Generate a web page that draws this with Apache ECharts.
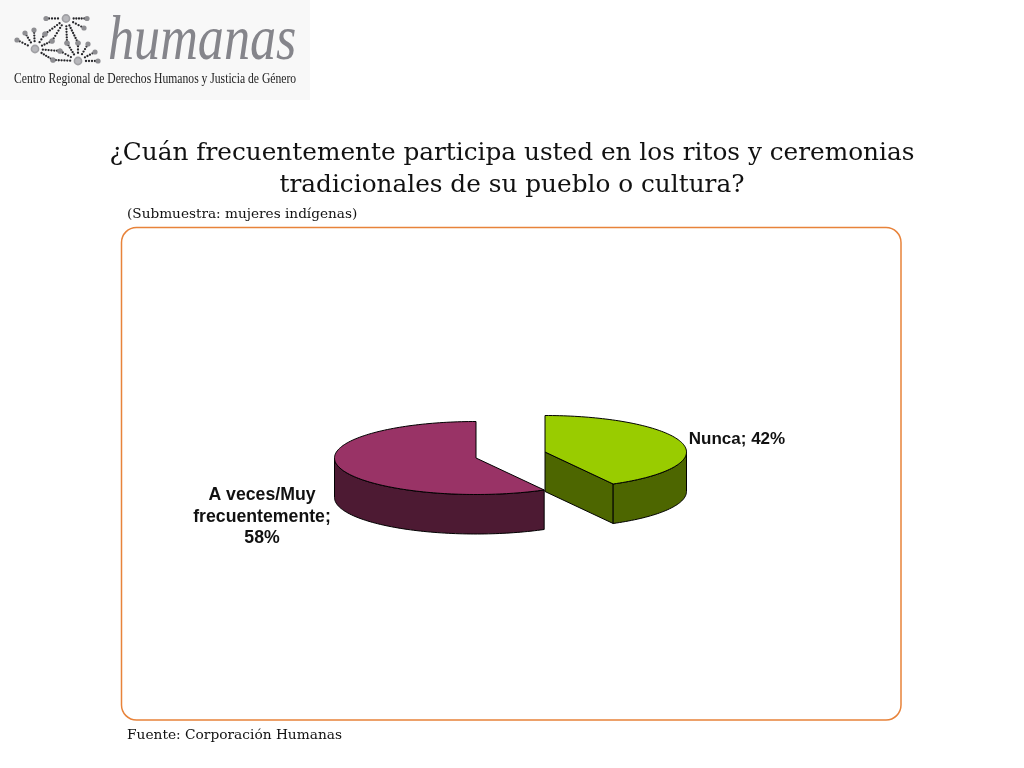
<!DOCTYPE html>
<html><head><meta charset="utf-8">
<style>html,body{margin:0;padding:0;background:#fff}#c{width:1024px;height:768px}</style>
<script src="https://cdn.jsdelivr.net/npm/echarts@6/dist/echarts.min.js"></script>
</head><body><div id="c"></div>
<script>
const categories = ['Nunca', 'A veces/Muy frecuentemente'];
const values = [42, 58];
const sliceLabels = ['Nunca; 42%', 'A veces/Muy\nfrecuentemente;\n58%'];
const topColors = ['#99CC00', '#993366'];
const wallColors = ['#4D6600', '#4D1A33'];
const titleText = '¿Cuán frecuentemente participa usted en los ritos y ceremonias\ntradicionales de su pueblo o cultura?';
const subtitleText = '(Submuestra: mujeres indígenas)';
const sourceText = 'Fuente: Corporación Humanas';

const chart = echarts.init(document.getElementById('c'), null, {renderer: 'canvas', width: 1024, height: 768});
const total = values.reduce((a, b) => a + b, 0);
const CX = 510.5, CY = 455, RX = 141.5, RY = 36.5, DEPTH = 39.5, EX = 34.5, EY = 3;
const labelPos = [[737, 439, 17], [262, 517, 17.7]];

function pt(cx, cy, deg, dy) {
  const r = deg * Math.PI / 180;
  return [cx + RX * Math.sin(r), cy - RY * Math.cos(r) + (dy || 0)];
}
function arcPts(cx, cy, a, b, dy) {
  const out = [], n = Math.max(2, Math.ceil(Math.abs(b - a) / 1.5));
  for (let i = 0; i <= n; i++) out.push(pt(cx, cy, a + (b - a) * i / n, dy));
  return out;
}
function renderSlice(params, api) {
  const i = params.dataIndex;
  let start = 0;
  for (let k = 0; k < i; k++) start += values[k];
  const a = start / total * 360, b = a + api.value(0) / total * 360;
  const mid = (a + b) / 2, side = Math.sin(mid * Math.PI / 180) >= 0 ? 1 : -1;
  const cx = CX + side * EX, cy = CY - side * EY;
  const st = {stroke: '#000', lineWidth: 1, lineJoin: 'round'};
  const children = [];
  const face = deg => children.push({type: 'polygon',
    shape: {points: [[cx, cy], pt(cx, cy, deg), pt(cx, cy, deg, DEPTH), [cx, cy + DEPTH]]},
    style: Object.assign({fill: wallColors[i]}, st)});
  if (Math.sin(b * Math.PI / 180) > 1e-6) face(b);
  if (Math.sin(a * Math.PI / 180) < -1e-6) face(a);
  const wa = Math.max(a, 90), wb = Math.min(b, 270);
  if (wb > wa) children.push({type: 'polygon',
    shape: {points: arcPts(cx, cy, wa, wb).concat(arcPts(cx, cy, wb, wa, DEPTH))},
    style: Object.assign({fill: wallColors[i]}, st)});
  children.push({type: 'polygon',
    shape: {points: [[cx, cy]].concat(arcPts(cx, cy, a, b))},
    style: Object.assign({fill: topColors[i]}, st)});
  children.push({type: 'text', style: {
    text: sliceLabels[i], x: labelPos[i][0], y: labelPos[i][1], align: 'center',
    verticalAlign: 'middle', font: 'bold ' + labelPos[i][2] + 'px "Liberation Sans"', lineHeight: 21.5, fill: '#111'}});
  return {type: 'group', children};
}

// decorative logo dots: hub -> ray ends
const logoHubs = [[66, 18.5], [35, 49], [78, 61]];
const logoRays = [
  [0, 46, 18.5], [0, 87, 18.5], [0, 84, 28], [0, 78, 43], [0, 67, 43], [0, 45, 34], [0, 52, 41],
  [1, 17, 40], [1, 25, 33], [1, 34, 30], [1, 45, 34], [1, 52, 41], [1, 60, 51], [1, 53, 60],
  [2, 98, 61], [2, 95, 52], [2, 88, 44], [2, 78, 43], [2, 67, 43], [2, 60, 51], [2, 53, 60]
];
const logoDots = [];
logoHubs.forEach(h => logoDots.push({type: 'circle', silent: true, shape: {cx: h[0], cy: h[1], r: 3.6},
  style: {fill: '#b8b8bc', stroke: '#a0a0a4', lineWidth: 1.6}}));
logoRays.forEach(r => {
  const h = logoHubs[r[0]], dx = r[1] - h[0], dy = r[2] - h[1], len = Math.hypot(dx, dy);
  const n = Math.round((len - 5) / 2.9);
  for (let i = 1; i < n; i++) {
    const d = 5 + i * (len - 5) / n;
    logoDots.push({type: 'circle', silent: true, shape: {cx: h[0] + dx * d / len, cy: h[1] + dy * d / len, r: 1.15},
      style: {fill: '#26262a'}});
  }
  logoDots.push({type: 'circle', silent: true, shape: {cx: r[1], cy: r[2], r: 2.6}, style: {fill: '#8e8e92'}});
});

chart.setOption({
  animation: false,
  backgroundColor: '#fff',
  title: {
    text: titleText, left: 512, top: 137.5, textAlign: 'center', padding: 0,
    textStyle: {fontFamily: '"DejaVu Serif"', fontSize: 24.75, fontWeight: 'normal', color: '#111', lineHeight: 32}
  },
  graphic: [
    {type: 'rect', silent: true, z: -1, shape: {x: 0, y: 0, width: 310, height: 100}, style: {fill: '#f8f8f8'}},
    ...logoDots,
    {type: 'text', silent: true, x: 108, y: 42, scaleX: 0.815, style: {text: 'humanas', x: 0, y: 0, verticalAlign: 'middle',
      font: 'italic 64px "Liberation Serif"', fill: '#85858b'}},
    {type: 'text', silent: true, x: 14, y: 79, scaleX: 0.775, style: {text: 'Centro Regional de Derechos Humanos y Justicia de Género', x: 0, y: 0, verticalAlign: 'middle',
      font: '15px "Liberation Serif"', fill: '#222'}},
    {type: 'text', silent: true, style: {text: subtitleText, x: 127, y: 214.5, verticalAlign: 'middle',
      font: '13.65px "DejaVu Serif"', fill: '#111'}},
    {type: 'text', silent: true, style: {text: sourceText, x: 127, y: 735.5, verticalAlign: 'middle',
      font: '13.75px "DejaVu Serif"', fill: '#111'}},
    {type: 'rect', silent: true, shape: {x: 121.5, y: 227.5, width: 779.5, height: 492.5, r: 15},
      style: {fill: 'none', stroke: '#E8833A', lineWidth: 1.5}}
  ],
  series: [{
    type: 'custom', coordinateSystem: 'none', silent: true,
    data: categories.map((c, i) => ({name: c, value: [values[i]]})),
    renderItem: renderSlice
  }]
});
</script></body></html>
